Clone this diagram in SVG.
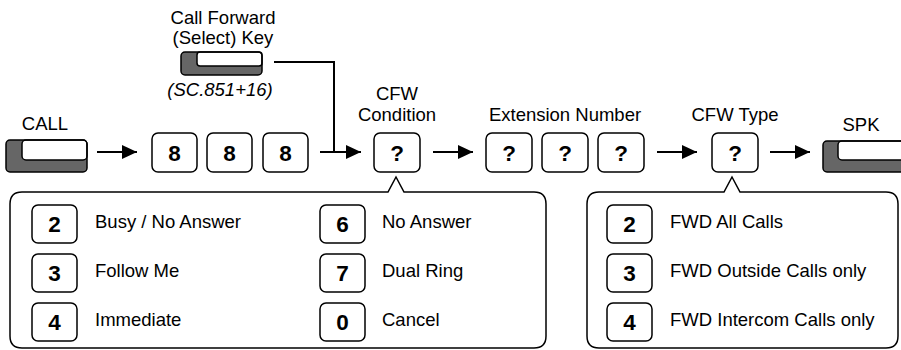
<svg xmlns="http://www.w3.org/2000/svg" width="901" height="350" viewBox="0 0 901 350">
<style>
text{font-family:"Liberation Sans",Arial,Helvetica,sans-serif;fill:#000}
.lbl{font-size:18.5px;text-anchor:middle}
.it{font-style:italic}
.opt{font-size:18.5px}
.dg{font-size:22.5px;font-weight:bold;text-anchor:middle}
.box{fill:#fff;stroke:#000;stroke-width:1.5}
.kd{fill:#666;stroke:none}
.kw{fill:#fff;stroke:#000;stroke-width:1.5}
.ko{fill:none;stroke:#000;stroke-width:1.5}
.pan{fill:#fff;stroke:#000;stroke-width:1.5}
.con{fill:none;stroke:#000;stroke-width:2}
</style>
<defs>
<marker id="ah" markerUnits="userSpaceOnUse" markerWidth="16" markerHeight="16" viewBox="0 0 16 16" refX="15" refY="8" orient="auto">
<path d="M0,1 L15,8 L0,15 Z" fill="#000"/>
</marker>
</defs>

<g id="connectors">
<line class="con" x1="97" y1="152" x2="137" y2="152" marker-end="url(#ah)"/>
<line class="con" x1="320" y1="152" x2="361" y2="152" marker-end="url(#ah)"/>
<path class="con" d="M274,62 H334 V152"/>
<line class="con" x1="433" y1="152" x2="473" y2="152" marker-end="url(#ah)"/>
<line class="con" x1="657" y1="152" x2="697" y2="152" marker-end="url(#ah)"/>
<line class="con" x1="770" y1="152" x2="810" y2="152" marker-end="url(#ah)"/>
</g>

<g id="call-key">
<text class="lbl" x="45" y="130">CALL</text>
<rect class="kd" x="6" y="140" width="81" height="32" rx="4"/>
<rect class="kw" x="22" y="140" width="65" height="20" rx="4"/>
<rect class="ko" x="6" y="140" width="81" height="32" rx="4"/>
</g>

<g id="cf-key">
<text class="lbl" x="223" y="24">Call Forward</text>
<text class="lbl" x="223" y="44">(Select) Key</text>
<rect class="kd" x="181" y="52" width="81" height="23" rx="4"/>
<rect class="kw" x="197" y="52" width="65" height="14" rx="3"/>
<rect class="ko" x="181" y="52" width="81" height="23" rx="4"/>
<text class="lbl it" x="220" y="96">(SC.851+16)</text>
</g>

<g id="digits-888">
<rect class="box" x="152" y="133" width="45" height="39" rx="6"/>
<text class="dg" x="174.5" y="160.5">8</text>
<rect class="box" x="207" y="133" width="45" height="39" rx="6"/>
<text class="dg" x="229.5" y="160.5">8</text>
<rect class="box" x="263" y="133" width="45" height="39" rx="6"/>
<text class="dg" x="285.5" y="160.5">8</text>
</g>

<g id="cfw-condition">
<text class="lbl" x="397" y="100">CFW</text>
<text class="lbl" x="397" y="121">Condition</text>
<rect class="box" x="374" y="133" width="46" height="39" rx="6"/>
<text class="dg" x="397" y="160.5">?</text>
</g>

<g id="extension-number">
<text class="lbl" x="565" y="121">Extension Number</text>
<rect class="box" x="486" y="133" width="46" height="39" rx="6"/>
<text class="dg" x="509" y="160.5">?</text>
<rect class="box" x="542" y="133" width="46" height="39" rx="6"/>
<text class="dg" x="565" y="160.5">?</text>
<rect class="box" x="598" y="133" width="46" height="39" rx="6"/>
<text class="dg" x="621" y="160.5">?</text>
</g>

<g id="cfw-type">
<text class="lbl" x="735" y="121">CFW Type</text>
<rect class="box" x="712" y="133" width="46" height="39" rx="6"/>
<text class="dg" x="735" y="160.5">?</text>
</g>

<g id="spk-key">
<text class="lbl" x="861" y="131">SPK</text>
<rect class="kd" x="823" y="141" width="84" height="31" rx="4"/>
<rect class="kw" x="838" y="141" width="69" height="19" rx="4"/>
<rect class="ko" x="823" y="141" width="84" height="31" rx="4"/>
</g>

<g id="condition-panel">
<path class="pan" d="M22,192 H388 L396,177 L404,192 H534 Q546,192 546,204 V336 Q546,348 534,348 H22 Q10,348 10,336 V204 Q10,192 22,192 Z"/>
<rect class="box" x="32" y="205" width="45" height="38" rx="6"/>
<text class="dg" x="54.5" y="232">2</text>
<text class="opt" x="95" y="228">Busy / No Answer</text>
<rect class="box" x="32" y="254" width="45" height="38" rx="6"/>
<text class="dg" x="54.5" y="281">3</text>
<text class="opt" x="95" y="277">Follow Me</text>
<rect class="box" x="32" y="303" width="45" height="38" rx="6"/>
<text class="dg" x="54.5" y="330">4</text>
<text class="opt" x="95" y="326">Immediate</text>
<rect class="box" x="320" y="205" width="45" height="38" rx="6"/>
<text class="dg" x="342.5" y="232">6</text>
<text class="opt" x="382" y="228">No Answer</text>
<rect class="box" x="320" y="254" width="45" height="38" rx="6"/>
<text class="dg" x="342.5" y="281">7</text>
<text class="opt" x="382" y="277">Dual Ring</text>
<rect class="box" x="320" y="303" width="45" height="38" rx="6"/>
<text class="dg" x="342.5" y="330">0</text>
<text class="opt" x="382" y="326">Cancel</text>
</g>

<g id="type-panel">
<path class="pan" d="M599,192 H724 L732,177 L740,192 H886 Q898,192 898,204 V336 Q898,348 886,348 H599 Q587,348 587,336 V204 Q587,192 599,192 Z"/>
<rect class="box" x="607" y="205" width="45" height="38" rx="6"/>
<text class="dg" x="629.5" y="232">2</text>
<text class="opt" x="670" y="228">FWD All Calls</text>
<rect class="box" x="607" y="254" width="45" height="38" rx="6"/>
<text class="dg" x="629.5" y="281">3</text>
<text class="opt" x="670" y="277">FWD Outside Calls only</text>
<rect class="box" x="607" y="303" width="45" height="38" rx="6"/>
<text class="dg" x="629.5" y="330">4</text>
<text class="opt" x="670" y="326">FWD Intercom Calls only</text>
</g>
</svg>
